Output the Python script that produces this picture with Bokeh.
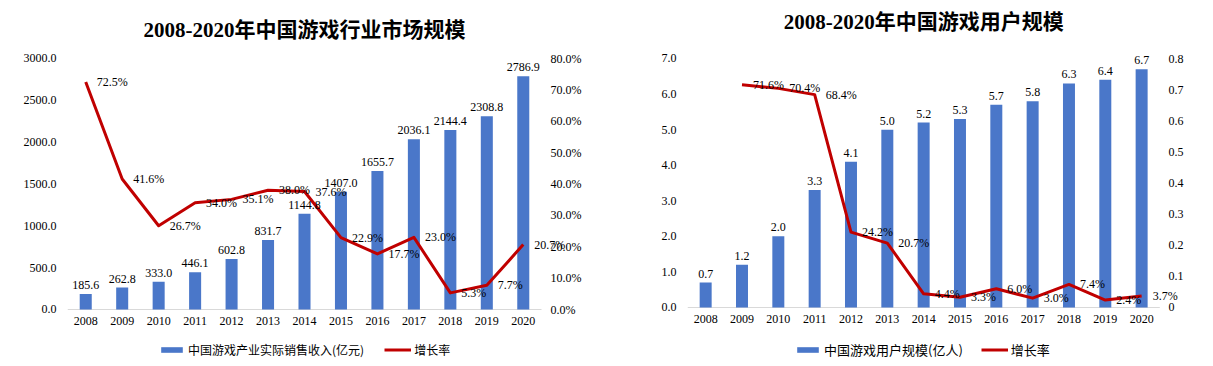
from bokeh.plotting import figure
from bokeh.models import (Range1d, LinearAxis, FixedTicker, NumeralTickFormatter,
                          Legend, LegendItem, ColumnDataSource, LabelSet, Label)
from bokeh.layouts import row
from bokeh.embed import file_html
from bokeh.resources import INLINE

# ---------------- data ----------------
years = ["2008", "2009", "2010", "2011", "2012", "2013", "2014",
         "2015", "2016", "2017", "2018", "2019", "2020"]

revenue = [185.6, 262.8, 333.0, 446.1, 602.8, 831.7, 1144.8,
           1407.0, 1655.7, 2036.1, 2144.4, 2308.8, 2786.9]
revenue_growth_years = ["2008", "2009", "2010", "2011", "2012", "2013", "2014",
                        "2015", "2016", "2017", "2018", "2019", "2020"]
revenue_growth = [0.725, 0.416, 0.267, 0.340, 0.351, 0.380, 0.376,
                  0.229, 0.177, 0.230, 0.053, 0.077, 0.207]

users = [0.7, 1.2, 2.0, 3.3, 4.1, 5.0, 5.2, 5.3, 5.7, 5.8, 6.3, 6.4, 6.7]
users_growth_years = ["2009", "2010", "2011", "2012", "2013", "2014",
                      "2015", "2016", "2017", "2018", "2019", "2020"]
users_growth = [0.716, 0.704, 0.684, 0.242, 0.207, 0.044,
                0.033, 0.060, 0.030, 0.074, 0.024, 0.037]

rev_left_ticks = [0, 500, 1000, 1500, 2000, 2500, 3000]
rev_right_ticks = [0, 0.1, 0.2, 0.3, 0.4, 0.5, 0.6, 0.7, 0.8]
usr_left_ticks = [0, 1, 2, 3, 4, 5, 6, 7]
usr_right_ticks = [0, 0.1, 0.2, 0.3, 0.4, 0.5, 0.6, 0.7, 0.8]

title1 = "2008-2020年中国游戏行业市场规模"
title2 = "2008-2020年中国游戏用户规模"
legend_bar1 = "中国游戏产业实际销售收入(亿元)"
legend_bar2 = "中国游戏用户规模(亿人)"
legend_line = "增长率"

# ---------------- style ----------------
SERIF = '"Liberation Serif", "Noto Sans CJK SC", serif'
CJK = '"Noto Sans CJK SC", "Liberation Serif", sans-serif'
BAR = "#4a77c9"
RED = "#c00000"
TXT = "#000000"


def make_chart(width, bl, br, xend, yr, rr, title, title_y, bar_legend,
               bars, gyears, growth, lticks, rticks, lfmt, rfmt, rover,
               rstandoff, xstandoff, leg_loc, leg_font, leg_spacing):
    pos = list(range(len(years)))
    p = figure(width=width, height=366, x_range=Range1d(-0.5, xend),
               y_range=Range1d(*yr), output_backend="svg", title=None,
               toolbar_location=None, min_border_left=bl, min_border_right=br,
               min_border_top=0, min_border_bottom=4)
    p.outline_line_color = None
    p.xgrid.visible = False
    p.ygrid.visible = False
    p.background_fill_color = "white"

    p.add_layout(Label(x=pos[len(pos) // 2], y=title_y, text=title,
                       text_align="center", text_baseline="middle",
                       text_font=SERIF, text_font_size="21px",
                       text_font_style="bold", text_color=TXT))

    p.extra_y_ranges = {"rate": Range1d(*rr)}

    # category axis base line
    p.segment(x0=[pos[0] - 0.5], y0=[0], x1=[pos[-1] + 0.5], y1=[0],
              line_color="#d9d9d9", line_width=1)

    src = ColumnDataSource(dict(x=pos, y=bars, t=[f"{v:.1f}" for v in bars]))
    vb = p.vbar(x="x", top="y", width=0.33, source=src, fill_color=BAR,
                line_color=None)
    gpos = [years.index(y) for y in gyears]
    gsrc = ColumnDataSource(dict(x=gpos, y=growth,
                                 t=[f"{v * 100:.1f}%" for v in growth]))
    ln = p.line(x="x", y="y", source=gsrc, y_range_name="rate",
                line_color=RED, line_width=3, line_join="round")

    p.add_layout(LabelSet(x="x", y="y", text="t", source=src, y_offset=5,
                          text_align="center", text_baseline="bottom",
                          text_font=SERIF, text_font_size="12px",
                          text_color=TXT))
    p.add_layout(LabelSet(x="x", y="y", text="t", source=gsrc,
                          y_range_name="rate", x_offset=11,
                          text_align="left", text_baseline="middle",
                          text_font=SERIF, text_font_size="12px",
                          text_color=TXT))

    # axes
    xa = p.xaxis[0]
    xa.ticker = FixedTicker(ticks=pos)
    xa.major_label_overrides = {i: y for i, y in zip(pos, years)}
    xa.axis_line_color = None
    xa.major_tick_line_color = None
    xa.minor_tick_line_color = None
    xa.major_tick_out = 0
    xa.major_tick_in = 0
    xa.major_label_standoff = xstandoff
    xa.major_label_text_font = SERIF
    xa.major_label_text_font_size = "12px"
    xa.major_label_text_color = TXT

    ya = p.yaxis[0]
    ya.ticker = FixedTicker(ticks=lticks)
    ya.formatter = NumeralTickFormatter(format=lfmt)
    ya.axis_line_color = None
    ya.major_tick_line_color = None
    ya.minor_tick_line_color = None
    ya.major_tick_out = 0
    ya.major_label_standoff = 11
    ya.major_label_text_font = SERIF
    ya.major_label_text_font_size = "12px"
    ya.major_label_text_color = TXT

    ra = LinearAxis(y_range_name="rate", ticker=FixedTicker(ticks=rticks),
                    formatter=NumeralTickFormatter(format=rfmt))
    if rover:
        ra.major_label_overrides = rover
    ra.axis_line_color = None
    ra.major_tick_line_color = None
    ra.minor_tick_line_color = None
    ra.major_tick_out = 0
    ra.major_tick_in = 0
    ra.major_label_standoff = rstandoff
    ra.major_label_text_font = SERIF
    ra.major_label_text_font_size = "12px"
    ra.major_label_text_color = TXT
    p.add_layout(ra, "right")

    leg = Legend(items=[LegendItem(label=bar_legend, renderers=[vb]),
                        LegendItem(label=legend_line, renderers=[ln])],
                 orientation="horizontal", location=leg_loc,
                 glyph_width=27, glyph_height=7, label_standoff=3,
                 spacing=leg_spacing, padding=0, margin=0,
                 border_line_color=None, background_fill_alpha=0,
                 label_text_font=CJK, label_text_font_size=leg_font,
                 label_text_color=TXT)
    p.add_layout(leg)
    return p


# chart 1: frame x 67..572, y 0..362 ; value 0 at y=309, 3000 at y=58
p1 = make_chart(608, 67, 36, 13.35, (-633.5, 3693.2), (-0.16892, 0.98486),
                title1, 3334.7, legend_bar1, revenue, revenue_growth_years,
                revenue_growth, rev_left_ticks, rev_right_ticks,
                "0.0", "0.0%", None, -22, -46, (91, 4), "12px", 20)
# chart 2: frame x 687..1190, y 0..362 ; value 0 at y=307, 7 at y=58
p2 = make_chart(605, 79, 23, 13.345, (-1.5462, 8.6305), (-0.17671, 0.98635),
                title2, 8.04, legend_bar2, users, users_growth_years,
                users_growth, usr_left_ticks, usr_right_ticks,
                "0.0", "0.0", {0: "0"}, -22, -48, (107, 3), "13px", 18)

layout = row(p1, p2)
open("out.html", "w").write(file_html(layout, INLINE))
